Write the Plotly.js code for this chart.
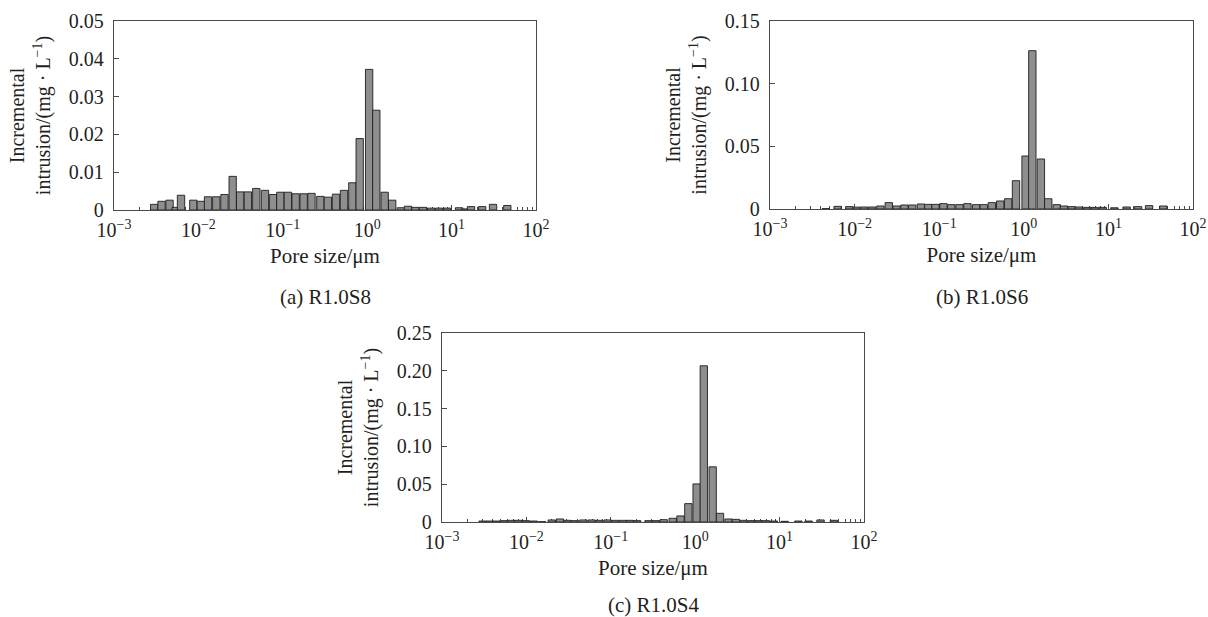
<!DOCTYPE html>
<html>
<head>
<meta charset="utf-8">
<script src="https://cdn.plot.ly/plotly-3.0.1.min.js"></script>
<style>html,body{margin:0;padding:0;background:#fff;}#chart{width:1208px;height:617px;}</style>
</head>
<body>
<div id="chart"></div>
<script>
// Pore size given as log10 of the diameter in μm; intrusion in mg·L⁻¹
const poreLogA = [-2.524,-2.437,-2.342,-2.269,-2.206,-2.060,-1.971,-1.886,-1.788,-1.691,-1.594,-1.505,-1.414,-1.314,-1.211,-1.116,-1.029,-0.940,-0.848,-0.753,-0.660,-0.555,-0.466,-0.370,-0.275,-0.176,-0.089,0.023,0.108,0.207,0.296,0.398,0.483,0.572,0.661,0.758,0.851,0.949,1.088,1.160,1.230,1.362,1.491,1.660];
const intrusionA = [0.0015,0.0023,0.0026,0.0007,0.0039,0.0026,0.0023,0.0035,0.0035,0.0041,0.0089,0.0048,0.0048,0.0057,0.0052,0.0041,0.0047,0.0047,0.0043,0.0043,0.0044,0.0036,0.0034,0.0042,0.0052,0.0072,0.0189,0.0372,0.0264,0.0047,0.0026,0.0006,0.0010,0.0007,0.0007,0.0005,0.0005,0.0005,0.0006,0.0003,0.0009,0.0009,0.0015,0.0012];

const poreLogB = [-2.340,-2.201,-2.063,-1.975,-1.886,-1.791,-1.695,-1.596,-1.504,-1.411,-1.318,-1.216,-1.129,-1.044,-0.950,-0.857,-0.760,-0.666,-0.563,-0.474,-0.378,-0.279,-0.185,-0.092,0.021,0.101,0.202,0.289,0.389,0.474,0.565,0.651,0.750,0.839,0.933,1.071,1.215,1.351,1.481,1.649];
const intrusionB = [0.0003,0.0021,0.0019,0.0015,0.0016,0.0016,0.0024,0.0051,0.0024,0.0032,0.0032,0.0040,0.0037,0.0037,0.0043,0.0035,0.0035,0.0043,0.0035,0.0035,0.0051,0.0064,0.0082,0.0226,0.0423,0.1263,0.0399,0.0082,0.0035,0.0024,0.0019,0.0016,0.0013,0.0013,0.0013,0.0010,0.0016,0.0019,0.0027,0.0024];

const poreLogC = [-2.518,-2.435,-2.352,-2.267,-2.182,-2.096,-2.007,-1.912,-1.813,-1.699,-1.602,-1.515,-1.426,-1.325,-1.227,-1.138,-1.039,-0.948,-0.855,-0.772,-0.688,-0.553,-0.464,-0.374,-0.267,-0.174,-0.081,0.017,0.102,0.207,0.294,0.395,0.483,0.570,0.665,0.748,0.837,0.932,1.060,1.222,1.343,1.485,1.643];
const intrusionC = [0.0013,0.0013,0.0013,0.0018,0.0022,0.0022,0.0018,0.0013,0.0004,0.0027,0.0040,0.0022,0.0018,0.0027,0.0027,0.0022,0.0027,0.0022,0.0022,0.0022,0.0018,0.0018,0.0018,0.0031,0.0049,0.0080,0.0243,0.0504,0.2066,0.0730,0.0115,0.0040,0.0035,0.0022,0.0018,0.0018,0.0018,0.0013,0.0009,0.0013,0.0013,0.0027,0.0022];

const decadeExps = [-3,-2,-1,0,1,2];
const decadeLabels = decadeExps.map(e => '10<sup>' + (e < 0 ? '\u2212' + (-e) : e) + '</sup>');
const yTicksA = [0,0.01,0.02,0.03,0.04,0.05];
const yLabelsA = ['0','0.01','0.02','0.03','0.04','0.05'];
const yTicksB = [0,0.05,0.10,0.15];
const yLabelsB = ['0','0.05','0.10','0.15'];
const yTicksC = [0,0.05,0.10,0.15,0.20,0.25];
const yLabelsC = ['0','0.05','0.10','0.15','0.20','0.25'];
const captions = ['(a) R1.0S8','(b) R1.0S6','(c) R1.0S4'];

const minorVals = [];
for (let e = -3; e < 2; e++) for (let k = 2; k <= 9; k++) minorVals.push(e + Math.log10(k));

const FONT = 'Liberation Serif, Times New Roman, serif';
const TXT = '#231f20';
const AX = '#4a4a4a';

function bar(x, y, xa, ya) {
  return {type:'bar', x:x, y:y, xaxis:xa, yaxis:ya, width:0.087,
    marker:{color:'#8e8e8e', line:{color:'#1e1e1e', width:0.9}}, hoverinfo:'x+y', showlegend:false};
}
function xax(dom, anchor) {
  return {domain:dom, anchor:anchor, range:[-3,2], type:'linear',
    tickmode:'array', tickvals:decadeExps, ticktext:decadeLabels,
    ticks:'inside', ticklen:5, tickcolor:AX, tickwidth:1, ticklabelstandoff:2,
    minor:{tickmode:'array', tickvals:minorVals, ticks:'inside', ticklen:3, tickcolor:AX, tickwidth:1, showgrid:false},
    showline:true, linecolor:AX, linewidth:1.2, mirror:true, showgrid:false, zeroline:false,
    layer:'below traces', fixedrange:true,
    tickfont:{family:FONT, size:20, color:TXT},
    title:{text:'Pore size/\u03bcm', font:{family:FONT, size:21, color:TXT}, standoff:8}};
}
function yax(dom, anchor, rng, tv, tt) {
  return {domain:dom, anchor:anchor, range:rng, tickmode:'array', tickvals:tv, ticktext:tt,
    ticks:'inside', ticklen:5, tickcolor:AX, tickwidth:1, ticklabelstandoff:5,
    showline:true, linecolor:AX, linewidth:1.2, mirror:true, showgrid:false, zeroline:false,
    layer:'below traces', fixedrange:true,
    tickfont:{family:FONT, size:20, color:TXT},
    title:{text:'Incremental<br>intrusion/(mg \u00b7 L<sup>\u22121</sup>)', font:{family:FONT, size:20, color:TXT}, standoff:12}};
}

const data = [
  bar(poreLogA, intrusionA, 'x', 'y'),
  bar(poreLogB, intrusionB, 'x2', 'y2'),
  bar(poreLogC, intrusionC, 'x3', 'y3')
];

const capFont = {family:FONT, size:21, color:TXT};
const layout = {
  width:1208, height:617, margin:{l:0, r:0, t:0, b:0},
  paper_bgcolor:'#fff', plot_bgcolor:'#fff', bargap:0, barmode:'overlay',
  font:{family:FONT, color:TXT},
  xaxis: xax([114/1208, 536/1208], 'y'),
  yaxis: yax([(617-210)/617, (617-21)/617], 'x', [0,0.05], yTicksA, yLabelsA),
  xaxis2: xax([770/1208, 1193/1208], 'y2'),
  yaxis2: yax([(617-209)/617, (617-21)/617], 'x2', [0,0.15], yTicksB, yLabelsB),
  xaxis3: xax([442/1208, 864/1208], 'y3'),
  yaxis3: yax([(617-522)/617, (617-333)/617], 'x3', [0,0.25], yTicksC, yLabelsC),
  annotations: [
    {text:captions[0], xref:'paper', yref:'paper', x:325/1208, y:1-297/617, xanchor:'center', yanchor:'middle', showarrow:false, font:capFont},
    {text:captions[1], xref:'paper', yref:'paper', x:982/1208, y:1-297/617, xanchor:'center', yanchor:'middle', showarrow:false, font:capFont},
    {text:captions[2], xref:'paper', yref:'paper', x:653/1208, y:1-605/617, xanchor:'center', yanchor:'middle', showarrow:false, font:capFont}
  ]
};

Plotly.newPlot('chart', data, layout, {displayModeBar:false, staticPlot:true});
</script>
</body>
</html>
